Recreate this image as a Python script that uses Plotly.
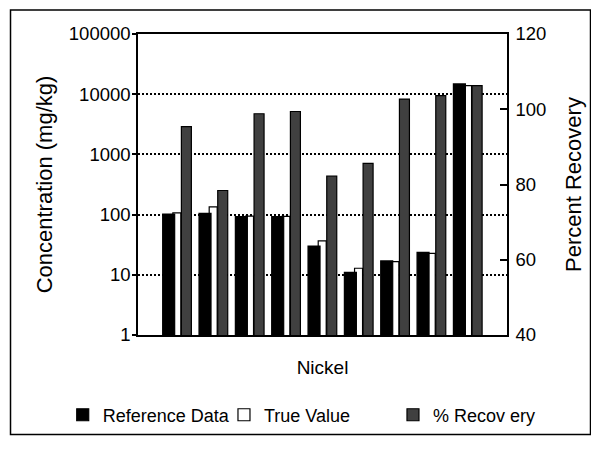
import plotly.graph_objects as go

# ---- data ----
samples = [1, 2, 3, 4, 5, 6, 7, 8, 9]
reference_data = [102, 105, 93, 93, 30, 11, 17, 23.5, 14800]
true_value = [107, 134, 94, 93.5, 36.5, 12.85, 16.55, 22.7, 13920]
pct_recovery = [95.4, 78.4, 98.8, 99.4, 82.2, 85.6, 102.7, 103.6, 106.3]

left_ticks = [1, 10, 100, 1000, 10000, 100000]
left_tick_labels = ["1", "10", "100", "1000", "10000", "100000"]
right_ticks = [40, 60, 80, 100, 120]

FONT = "Liberation Sans, Arial, sans-serif"
GRAY = "#404040"

fig = go.Figure()

fig.add_trace(go.Bar(
    x=samples, y=true_value, name="True Value",
    offset=-0.12, width=0.22,
    marker=dict(color="white", line=dict(color="black", width=1.2)),
    legend="legend2",
))
fig.add_trace(go.Bar(
    x=samples, y=reference_data, name="Reference Data",
    offset=-0.40, width=0.33,
    marker=dict(color="black", line=dict(color="black", width=1.2)),
    legend="legend",
))
fig.add_trace(go.Bar(
    x=samples, y=pct_recovery, name="% Recov ery",
    offset=0.115, width=0.275, yaxis="y2",
    marker=dict(color=GRAY, line=dict(color="black", width=1.2)),
    legend="legend3",
))

legend_common = dict(orientation="h", yanchor="middle", y=-0.266, xanchor="left",
                     font=dict(family=FONT, size=18, color="black"),
                     bgcolor="rgba(0,0,0,0)", borderwidth=0)

# page body has an 8px margin, so the figure is sized/margined to compensate
fig.update_layout(
    width=591, height=441,
    margin=dict(l=130, r=92, t=26, b=114),
    paper_bgcolor="white", plot_bgcolor="white",
    barmode="overlay",
    showlegend=True,
    font=dict(family=FONT, color="black"),
    xaxis=dict(
        range=[-0.079, 10.075], showticklabels=False, ticks="",
        showgrid=False, zeroline=False,
        showline=True, linecolor="black", linewidth=1.5, mirror=True,
        title=dict(text="Nickel", font=dict(size=19, family=FONT), standoff=25),
    ),
    yaxis=dict(
        type="log", range=[0, 5],
        tickvals=left_ticks, ticktext=left_tick_labels,
        ticks="outside", ticklen=4, tickcolor="black", tickwidth=1.5,
        ticklabelstandoff=-2,
        tickfont=dict(size=18.5, family=FONT),
        showgrid=True, gridcolor="black", gridwidth=1.5, griddash="2px,2px",
        zeroline=False,
        showline=True, linecolor="black", linewidth=1.5,
        title=dict(text="Concentration (mg/kg)", font=dict(size=22, family=FONT), standoff=10),
    ),
    yaxis2=dict(
        overlaying="y", side="right", range=[40, 120],
        tickvals=right_ticks,
        ticks="inside", ticklen=7, tickcolor="black", tickwidth=1.5,
        ticklabelstandoff=3,
        tickfont=dict(size=18.5, family=FONT),
        showgrid=False, zeroline=False,
        showline=True, linecolor="black", linewidth=1.5,
        title=dict(text="Percent Recovery", font=dict(size=22, family=FONT), standoff=20),
    ),
    legend=dict(x=-0.204, **legend_common),
    legend2=dict(x=0.233, **legend_common),
    legend3=dict(x=0.691, **legend_common),
    shapes=[dict(type="rect", xref="paper", yref="paper",
                 x0=-0.3455, x1=1.2263, y0=-0.3306, y1=1.0797,
                 line=dict(color="black", width=1.5), fillcolor="rgba(0,0,0,0)",
                 layer="below")],
)

fig.write_html("out.html")
